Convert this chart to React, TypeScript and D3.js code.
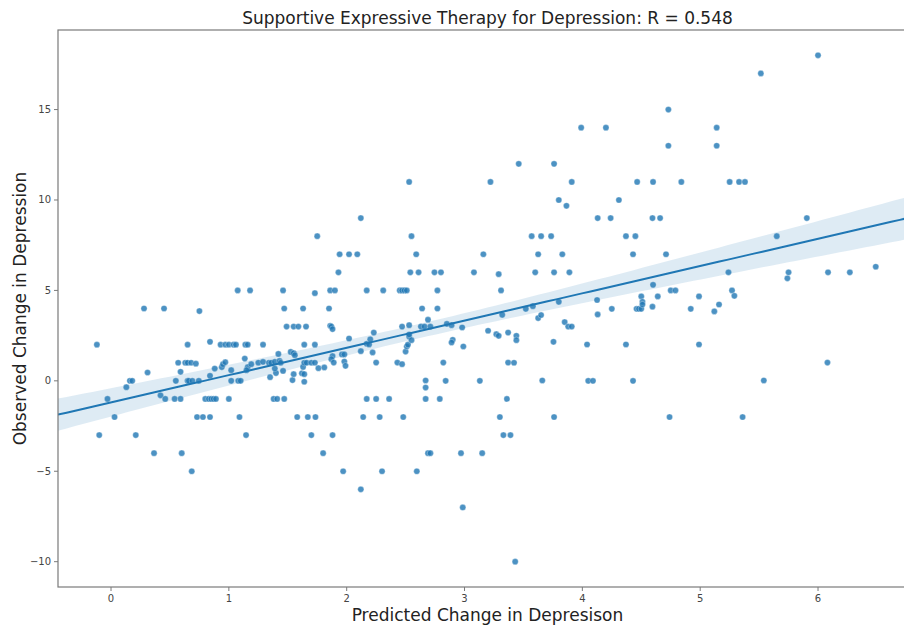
import React from 'react';
import * as d3 from 'd3';

// Predicted vs observed change, one entry per patient (same order in both arrays)
const predicted = [
  -0.12, -0.1, -0.03, 0.03, 0.13, 0.16, 0.18, 0.21, 0.28, 0.31, 0.365, 0.42, 0.45, 0.46,
  0.54, 0.55, 0.57, 0.59, 0.59, 0.6, 0.63, 0.65, 0.65, 0.68, 0.72, 0.65, 0.66, 0.69, 0.685, 0.73,
  0.78, 0.84, 0.745, 0.75, 0.8, 0.83, 0.85, 0.87, 0.89, 0.84, 0.84, 0.88, 0.93, 0.97, 1.0, 1.04,
  1.06, 0.94, 0.95, 0.97, 1.02, 1.0,
  1.02, 1.08, 1.1, 1.075, 1.09, 1.135, 1.14, 1.16, 1.16, 1.15, 1.146, 1.18, 1.19, 1.25, 1.29, 1.29,
  1.34, 1.36, 1.39, 1.43, 1.35, 1.4, 1.39, 1.42, 1.44, 1.46, 1.38, 1.41, 1.47, 1.46, 1.47, 1.49,
  1.55, 1.59, 1.655, 1.525, 1.55, 1.56, 1.54, 1.55, 1.58, 1.62, 1.63, 1.64, 1.64, 1.63, 1.64, 1.64,
  1.66, 1.7, 1.73, 1.76, 1.73, 1.73, 1.75, 1.67, 1.735, 1.7, 1.8, 1.81, 1.85, 1.86, 1.87, 1.88,
  1.86, 1.9, 1.88, 1.87, 1.89, 1.88, 1.93, 1.94, 1.96, 1.98, 1.98, 1.99, 1.97,
  2.02, 2.09, 2.02, 2.12, 2.12, 2.12, 2.14, 2.17, 2.17, 2.17, 2.19, 2.2, 2.22, 2.23, 2.25, 2.25,
  2.28, 2.3, 2.31, 2.36, 2.43, 2.47, 2.45, 2.47, 2.49, 2.51, 2.47, 2.48, 2.5, 2.51, 2.52, 2.53,
  2.53, 2.53, 2.53, 2.55, 2.54, 2.55,
  2.59, 2.595, 2.61, 2.63, 2.64, 2.66, 2.67, 2.67, 2.67, 2.69, 2.69, 2.71, 2.71, 2.745, 2.77, 2.77,
  2.79, 2.8, 2.82, 2.84, 2.85, 2.89, 2.9, 2.89, 2.97, 2.98, 2.99, 2.985,
  3.08, 3.13, 3.15, 3.16, 3.2, 3.22, 3.27, 3.29, 3.29, 3.3, 3.31, 3.32, 3.33, 3.39, 3.36, 3.37,
  3.37, 3.42, 3.44, 3.44, 3.43, 3.46,
  3.52, 3.58, 3.57, 3.6, 3.625, 3.625, 3.65, 3.65, 3.66, 3.735, 3.755, 3.76, 3.76, 3.76, 3.8, 3.8,
  3.83, 3.85, 3.865, 3.88, 3.89, 3.91, 3.91, 3.99,
  4.04, 4.05, 4.09, 4.125, 4.13, 4.13, 4.2, 4.24, 4.25, 4.31, 4.37, 4.37, 4.43, 4.43, 4.45, 4.46,
  4.465, 4.48, 4.5, 4.5, 4.51, 4.51,
  4.595, 4.595, 4.6, 4.6, 4.64, 4.66, 4.71, 4.73, 4.73, 4.74, 4.75, 4.79, 4.84, 4.92, 4.99, 4.99,
  5.12, 5.14, 5.14, 5.16, 5.24, 5.25, 5.27, 5.29, 5.33, 5.36, 5.38, 5.515, 5.54, 5.65, 5.74, 5.75,
  5.905, 6.0, 6.08, 6.085, 6.27, 6.49,
];

const observed = [
  2, -3, -1, -2, -0.35, 0, 0, -3, 4, 0.46, -4, -0.8, 4, -1,
  -1, 0, 1, 0.5, -1, -4, 1, 2, 1, 1, 0.95, 0, 0, 0, -5, -2,
  -2, -2, 0, 3.86, -1, -1, -1, -1, -1, 0.28, 2.16, 0.68, 2, 2, 2, 2,
  2, 0.76, 0.92, 1.03, 0.59, -1,
  0, 0, 0, 5, -2, 1.23, 2, 2, 0.76, 0.59, -3, 5, 0.92, 1.0, 1.05, 2,
  1.0, 1.0, 1.05, 1.1, 0.2, 0.43, 0.68, 1.49, 1.0, 0.55, -1, -1, -1, 5, 4, 3,
  3, 3, 3, 1.6, 1.53, 1.42, 0.04, 0.37, -2, 0.42, 0.77, 0.37, -0.05, 4, 2, 1.0,
  1.0, 1.0, 1.0, 0.7, 2, 4.85, 8, -2, -2, -3, -4, 0.74, 4, 3.04, 3, 2.86,
  5, 5, 1.37, 1.2, 1.01, -3, 6, 7, 1.46, 1.46, 1.07, 0.83, -5,
  7, 7, 2.34, 9, 1.64, -6, -2, 5, -1, 2.05, 2.01, 2.3, 1.57, 2.67, 1.01, -1,
  -2, -5, 5, -1, 1.01, 0.92, 5, 5, 5, 5, 3, -2, 1.62, 1.9, 2.0, 2.45,
  2.56, 3.08, 11, 2.25, 6, 8,
  7, -5, 6, 3, 4, 3, 0.02, -0.37, -1, 3.38, -4, -4, 3, 6, 4, 5,
  -1, 6, 1.01, 0, 3.15, 3.08, 2.27, 2.12, -4, 2.95, 1.9, -7,
  6, 0, -4, 7, 2.77, 11, 2.58, 2.49, 5.9, -2, 5, 3.65, -3, -3, -1, 2.67,
  1.01, 1.0, 2.49, 2.25, -10, 12,
  3.98, 4.13, 8, 6, 7, 3.47, 3.64, 8, 0.02, 8, 2.16, 12, 6, -2, 10, 4.37,
  7, 3.25, 9.68, 3.0, 6, 3.0, 11, 14,
  2.01, 0, 0, 4.47, 3.67, 9, 14, 9, 3.98, 10, 8, 2.01, 7, 0, 8, 3.98,
  11, 3.98, 3.98, 4.67, 4.37, 4.22,
  9, 4.1, 11, 5.31, 4.67, 9, 7, 15, 13, -2, 5, 5, 11, 3.98, 4.67, 2.01,
  3.84, 14, 13, 4.22, 6, 11, 5, 4.7, 11, -2, 11, 17, 0.02, 8, 5.67, 6,
  9, 18, 1.01, 6, 6, 6.31,
];

const xTicks = [0, 1, 2, 3, 4, 5, 6];
const yTicks = [-10, -5, 0, 5, 10, 15];
const xDomain: [number, number] = [-0.45, 6.84];
const yDomain: [number, number] = [-11.4, 19.4];

const title = 'Supportive Expressive Therapy for Depression: R = 0.548';
const xLabel = 'Predicted Change in Depresison';
const yLabel = 'Observed Change in Depression';

const BLUE = '#1f77b4';
const FONT = '"DejaVu Sans", sans-serif';

// Ordinary least squares fit with a 95% confidence band for the mean
function fitLine(xs: number[], ys: number[]) {
  const n = xs.length;
  const mx = d3.mean(xs)!;
  const my = d3.mean(ys)!;
  let sxx = 0;
  let sxy = 0;
  for (let i = 0; i < n; i++) {
    sxx += (xs[i] - mx) ** 2;
    sxy += (xs[i] - mx) * (ys[i] - my);
  }
  const slope = sxy / sxx;
  const intercept = my - slope * mx;
  let sse = 0;
  for (let i = 0; i < n; i++) sse += (ys[i] - (intercept + slope * xs[i])) ** 2;
  const s = Math.sqrt(sse / (n - 2));
  const t = 1.968;
  const grid = d3.range(0, 101).map((i) => xDomain[0] + (i / 100) * (xDomain[1] - xDomain[0]));
  return grid.map((gx) => {
    const fit = intercept + slope * gx;
    const se = s * Math.sqrt(1 / n + (gx - mx) ** 2 / sxx);
    return { x: gx, fit, lo: fit - t * se, hi: fit + t * se };
  });
}

export default function App() {
  const W = 904;
  const H = 626;
  const left = 58;
  const right = 917;
  const top = 30;
  const bottom = 587;

  const x = d3.scaleLinear().domain(xDomain).range([left, right]);
  const y = d3.scaleLinear().domain(yDomain).range([bottom, top]);

  const band = fitLine(predicted, observed);
  const area = d3
    .area<{ x: number; lo: number; hi: number }>()
    .x((d) => x(d.x))
    .y0((d) => y(d.lo))
    .y1((d) => y(d.hi));
  const line = d3
    .line<{ x: number; fit: number }>()
    .x((d) => x(d.x))
    .y((d) => y(d.fit));

  const cx = (left + right) / 2;

  return (
    <svg
      width={W}
      height={H}
      style={{ position: 'absolute', left: 0, top: 0, background: '#fff' }}
      fontFamily={FONT}
    >
      <defs>
        <clipPath id="plot-area">
          <rect x={left} y={top} width={right - left} height={bottom - top} />
        </clipPath>
      </defs>

      <g clipPath="url(#plot-area)">
        {predicted.map((px, i) => (
          <circle
            key={i}
            cx={x(px)}
            cy={y(observed[i])}
            r={3.1}
            fill={BLUE}
            fillOpacity={0.8}
            stroke="#fff"
            strokeOpacity={0.8}
            strokeWidth={0.4}
          />
        ))}
        <path d={area(band) || ''} fill={BLUE} fillOpacity={0.15} stroke="none" />
        <path d={line(band) || ''} fill="none" stroke={BLUE} strokeWidth={2} />
      </g>

      {/* axes frame */}
      <rect
        x={left}
        y={top}
        width={right - left}
        height={bottom - top}
        fill="none"
        stroke="#7a7a7a"
        strokeWidth={1.2}
      />

      {/* x ticks */}
      {xTicks.map((t) => (
        <g key={`x${t}`} transform={`translate(${x(t)},${bottom})`}>
          <line y2={4} stroke="#7a7a7a" strokeWidth={1} />
          <text y={15} textAnchor="middle" fontSize={10} fill="#444">
            {t}
          </text>
        </g>
      ))}

      {/* y ticks */}
      {yTicks.map((t) => (
        <g key={`y${t}`} transform={`translate(${left},${y(t)})`}>
          <line x2={-4} stroke="#7a7a7a" strokeWidth={1} />
          <text x={-7} dy="0.34em" textAnchor="end" fontSize={10} fill="#444">
            {t < 0 ? `\u2212${Math.abs(t)}` : t}
          </text>
        </g>
      ))}

      <text x={cx} y={24} textAnchor="middle" fontSize={17} fill="#222">
        {title}
      </text>
      <text x={cx} y={621} textAnchor="middle" fontSize={17} fill="#222">
        {xLabel}
      </text>
      <text
        transform={`translate(26,${(top + bottom) / 2}) rotate(-90)`}
        textAnchor="middle"
        fontSize={17}
        fill="#222"
      >
        {yLabel}
      </text>
    </svg>
  );
}
